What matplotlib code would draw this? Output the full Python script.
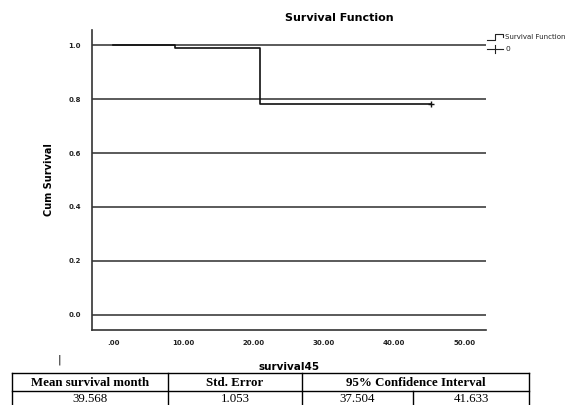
import matplotlib.pyplot as plt
from matplotlib.lines import Line2D
import numpy as np

# survival curve
step_times = [0.0, 8.8, 20.9, 45.2]
step_surv = [1.0, 0.99, 0.78, 0.78]
censor_times = [45.2]
censor_surv = [0.78]

y_ticks = [0.0, 0.2, 0.4, 0.6, 0.8, 1.0]
x_ticks = [0, 10, 20, 30, 40, 50]
x_ticklabels = ['.00', '10.00', '20.00', '30.00', '40.00', '50.00']

# summary table
table_header = ['Mean survival month', 'Std. Error', '95% Confidence Interval']
table_values = ['39.568', '1.053', '37.504', '41.633']

W, H = 571, 405
fig = plt.figure(figsize=(W / 100, H / 100), dpi=100)
fig.patch.set_facecolor('white')

def fx(px):
    return px / W

def fy(py):
    return 1 - py / H

# axes box in pixels: left 92, right 486, top 30, bottom 330
ax = fig.add_axes([92 / W, 1 - 330 / H, (486 - 92) / W, 300 / H])
ax.set_xlim(-3, 53.05)
ax.set_ylim(-0.056, 1.056)

for y in y_ticks:
    ax.axhline(y, color='#5a5a5a', lw=1.4, zorder=1)

ax.step(step_times, step_surv, where='post', color='#111111', lw=1.2, zorder=3)
ax.plot(censor_times, censor_surv, marker='+', ms=5, mew=1.0, color='#111111',
        ls='none', zorder=4)

for s in ['top', 'right']:
    ax.spines[s].set_visible(False)
for s in ['left', 'bottom']:
    ax.spines[s].set_color('#333333')
    ax.spines[s].set_linewidth(1.2)

ax.set_yticks(y_ticks)
ax.set_yticklabels(['%.1f' % v for v in y_ticks])
ax.set_xticks(x_ticks)
ax.set_xticklabels(x_ticklabels)
ax.tick_params(length=0, labelsize=5, pad=8, colors='#222222')
ax.tick_params(axis='x', pad=7)
for lab in ax.get_xticklabels() + ax.get_yticklabels():
    lab.set_fontweight('bold')

ax.set_ylabel('Cum Survival', fontsize=7, fontweight='bold', labelpad=10)
ax.set_xlabel('survival45', fontsize=7.5, fontweight='bold', labelpad=12)

fig.text(339 / W, 1 - 18 / H, 'Survival Function', fontsize=8, fontweight='bold',
         ha='center', va='center')

# legend, drawn by hand to get the step symbol
step_px = [(487, 40), (495, 40), (495, 34), (503, 34), (503, 37)]
fig.add_artist(Line2D([fx(p[0]) for p in step_px], [fy(p[1]) for p in step_px],
                      color='#222222', lw=0.8))
fig.add_artist(Line2D([fx(487), fx(503)], [fy(49), fy(49)], color='#222222', lw=0.8))
fig.add_artist(Line2D([fx(495), fx(495)], [fy(45), fy(53)], color='#222222', lw=0.8))
fig.text(fx(505), fy(37), 'Survival Function', fontsize=5.0,
         ha='left', va='center', color='#222222')
fig.text(fx(505), fy(49), '0', fontsize=5.4,
         ha='left', va='center', color='#222222')

fig.text(59 / W, 1 - 360 / H, '|', fontsize=8, ha='center', va='center')

# table drawn with figure lines
col_x = [12, 168, 302, 413, 529]
row_y = [373, 391, 406]

def hline(py, x0, x1):
    fig.add_artist(Line2D([fx(x0), fx(x1)], [fy(py), fy(py)], color='black', lw=1.0))

def vline(px, y0, y1):
    fig.add_artist(Line2D([fx(px), fx(px)], [fy(y0), fy(y1)], color='black', lw=1.0))

hline(row_y[0], col_x[0], col_x[-1])
hline(row_y[1], col_x[0], col_x[-1])
for i, px in enumerate(col_x):
    if i == 3:
        vline(px, row_y[1], row_y[2])
    else:
        vline(px, row_y[0], row_y[2])

hdr_spans = [(col_x[0], col_x[1]), (col_x[1], col_x[2]), (col_x[2], col_x[4])]
for txt, (a, b) in zip(table_header, hdr_spans):
    fig.text(fx((a + b) / 2), fy((row_y[0] + row_y[1]) / 2 + 0.5), txt,
             family='Liberation Serif', fontweight='bold', fontsize=9.3,
             ha='center', va='center')

for j, txt in enumerate(table_values):
    a, b = col_x[j], col_x[j + 1]
    fig.text(fx((a + b) / 2), fy(399), txt, family='Liberation Serif',
             fontsize=9.3, ha='center', va='center')

plt.savefig('out.png', dpi=100)
